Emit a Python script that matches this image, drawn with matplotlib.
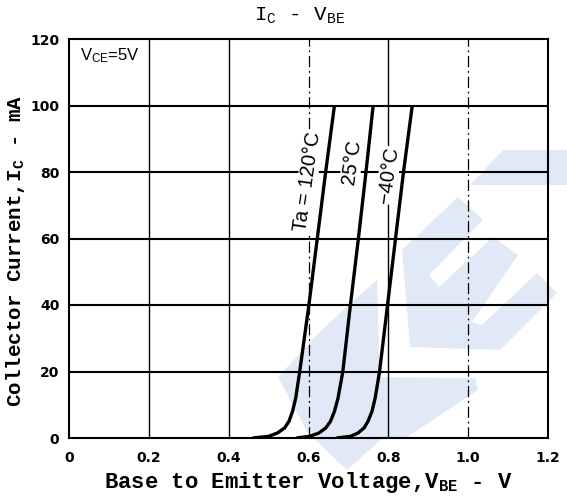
import matplotlib
matplotlib.use('Agg')
import matplotlib.pyplot as plt
from matplotlib.patches import Polygon

plt.rcParams['mathtext.fontset'] = 'custom'
plt.rcParams['mathtext.rm'] = 'Liberation Mono'
plt.rcParams['mathtext.bf'] = 'Liberation Mono:bold'

# collector current points (mA) and base-emitter voltage (V) per ambient temperature
ic_ma = [0, 0.5, 1.5, 3, 5, 8, 12, 20, 40, 60, 80, 100]
vbe_120 = [0.46, 0.500, 0.522, 0.540, 0.551, 0.560, 0.568, 0.578, 0.601, 0.622, 0.643, 0.665]
vbe_25 = [0.57, 0.603, 0.626, 0.643, 0.655, 0.665, 0.674, 0.686, 0.705, 0.725, 0.744, 0.762]
vbe_m40 = [0.67, 0.705, 0.724, 0.739, 0.749, 0.759, 0.767, 0.778, 0.798, 0.818, 0.838, 0.860]

x_ticks = [0, 0.2, 0.4, 0.6, 0.8, 1.0, 1.2]
x_labels = ['0', '0.2', '0.4', '0.6', '0.8', '1.0', '1.2']
y_ticks = [0, 20, 40, 60, 80, 100, 120]
dashed_x = [0.6, 1.0]

# curve labels: text, x, y
curve_labels = [('Ta = 120°C', 0.597, 77), ('25°C', 0.709, 83), ('−40°C', 0.800, 79)]

W, H = 567, 499
fig = plt.figure(figsize=(W / 100, H / 100), dpi=100)
ax = fig.add_axes([69 / W, 1 - 438 / H, 479 / W, 399 / H])

# faint logo watermark behind the chart (figure pixel outlines)
wm = [
    [(470, 185), (503, 150), (567, 150), (567, 185)],
    [(402, 250), (458, 197), (483, 220), (429, 275), (439, 287), (493, 237), (518, 255),
     (472, 322), (482, 325), (537, 273), (557, 293), (500, 350), (410, 347)],
    [(278, 377), (315, 337), (343, 310), (377, 280), (380, 377), (475, 378), (478, 390),
     (407, 437), (383, 438), (347, 470), (307, 432)],
]
for poly in wm:
    pts = [(px / W, 1 - py / H) for px, py in poly]
    ax.add_patch(Polygon(pts, closed=True, facecolor='#e2e9f6', edgecolor='none',
                         transform=fig.transFigure, clip_on=False, zorder=0.5))

for x in x_ticks[1:-1]:
    if x in dashed_x:
        ax.axvline(x, color='black', lw=0.9, ls=(0, (9, 3, 1.5, 3)), zorder=1)
    else:
        ax.axvline(x, color='black', lw=1.0, zorder=1)
for y in y_ticks[1:-1]:
    ax.axhline(y, color='black', lw=1.5, zorder=1)

for v in (vbe_120, vbe_25, vbe_m40):
    ax.plot(v, ic_ma, color='black', lw=2.4, solid_capstyle='butt',
            solid_joinstyle='round', zorder=3)

for txt, x, y in curve_labels:
    ax.text(x, y, txt, rotation=82, ha='center', va='center', fontsize=14.5,
            family='Liberation Sans', zorder=2,
            bbox=dict(facecolor='white', edgecolor='none', pad=0.5))

ax.text(0.028, 115, 'V$\\mathregular{_{CE}}$=5V', fontsize=12, family='Liberation Sans',
        va='center', ha='left')

ax.set_xlim(0, 1.2)
ax.set_ylim(0, 120)
ax.set_xticks(x_ticks)
ax.set_xticklabels(x_labels)
ax.set_yticks(y_ticks)
ax.tick_params(length=0, labelsize=10)
ax.tick_params(axis='x', pad=9)
ax.tick_params(axis='y', pad=7)
for lab in ax.get_xticklabels() + ax.get_yticklabels():
    lab.set_fontweight('bold')
for sp in ax.spines.values():
    sp.set_linewidth(1.5)

ax.set_xlabel('Base to Emitter Voltage,V$\\mathregular{_{BE}}$ - V', fontsize=16,
              family='Liberation Mono', fontweight='bold')
ax.set_ylabel('Collector Current,I$\\mathregular{_C}$ - mA', fontsize=15,
              family='Liberation Mono', fontweight='bold')
ax.xaxis.set_label_coords(0.5, -0.08)
ax.yaxis.set_label_coords(-0.088, 0.47)

fig.text(300 / W, 1 - 16 / H, 'I$\\mathregular{_C}$ - V$\\mathregular{_{BE}}$', fontsize=15,
         family='Liberation Mono', ha='center', va='center')

fig.savefig('out.png', dpi=100)
